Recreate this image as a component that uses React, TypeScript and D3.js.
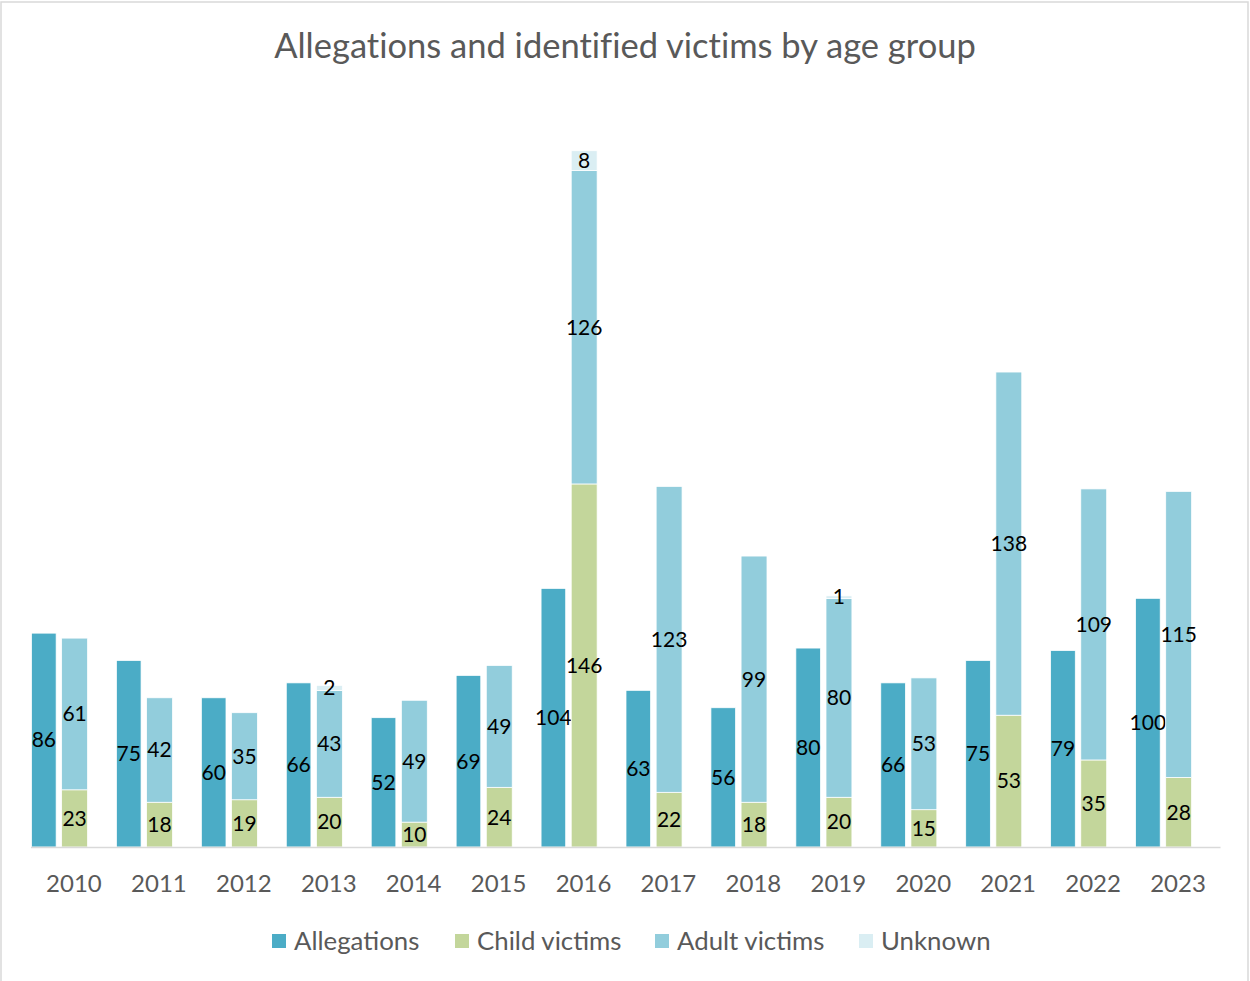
import React from "react";
import * as d3 from "d3";

const years = ["2010","2011","2012","2013","2014","2015","2016","2017","2018","2019","2020","2021","2022","2023"];
const allegations = [86,75,60,66,52,69,104,63,56,80,66,75,79,100];
const childVictims = [23,18,19,20,10,24,146,22,18,20,15,53,35,28];
const adultVictims = [61,42,35,43,49,49,126,123,99,80,53,138,109,115];
const unknownVictims = [0,0,0,2,0,0,8,0,0,1,0,0,0,0];
const seriesNames = ["Allegations","Child victims","Adult victims","Unknown"];
const colors = ["#4BACC6","#C3D69B","#92CDDC","#DAEEF3"];

const W = 1250, H = 981;
const FONT = "Lato, 'Open Sans', sans-serif";

export default function App() {
  const x = d3.scaleBand<string>().domain(years).range([31.5, 1220.5]).padding(0);
  const y = d3.scaleLinear().domain([0, 300]).range([847, 101]);
  const bw = x.bandwidth();
  const alW = bw * 0.29;
  const vicOff = bw * 0.355;
  const vicW = bw * 0.305;

  const stackData = years.map((yr, i) => ({ year: yr, child: childVictims[i], adult: adultVictims[i], unknown: unknownVictims[i] }));
  const stack = d3.stack<any>().keys(["child","adult","unknown"])(stackData);

  const legendX = [272, 455, 655, 859];

  return (
    <svg width={W} height={H} style={{ position: "absolute", left: 0, top: 0, background: "#fff" }} fontFamily={FONT}>
      <rect x={1} y={2} width={1247} height={990} fill="#fff" stroke="#d9d9d9" strokeWidth={1.5} />
      <text x={625} y={58} textAnchor="middle" fontSize={34.5} fill="#595959" style={{ fontVariantLigatures: "none" }}>Allegations and identified victims by age group</text>
      {years.map((yr, i) => {
        const x0 = x(yr)!;
        const y0 = y(allegations[i]);
        return (
          <g key={"a" + yr}>
            <rect x={x0} y={y0} width={alW} height={y(0) - y0} fill={colors[0]} stroke="#fff" strokeWidth={0.75} />
            <text x={x0 + alW / 2} y={(y0 + y(0)) / 2} dy="0.35em" textAnchor="middle" fontSize={21} fill="#000">{allegations[i]}</text>
          </g>
        );
      })}
      {stack.map((s, si) => (
        <g key={s.key}>
          {s.map((d, i) => {
            const v = d[1] - d[0];
            if (v <= 0) return null;
            const x0 = x(years[i])! + vicOff;
            return (
              <g key={i}>
                <rect x={x0} y={y(d[1])} width={vicW} height={y(d[0]) - y(d[1])} fill={colors[si + 1]} stroke="#fff" strokeWidth={0.75} />
                <text x={x0 + vicW / 2} y={(y(d[0]) + y(d[1])) / 2} dy="0.35em" textAnchor="middle" fontSize={21} fill="#000">{v}</text>
              </g>
            );
          })}
        </g>
      ))}
      <line x1={31} x2={1220.5} y1={847.5} y2={847.5} stroke="#d9d9d9" strokeWidth={1.5} />
      {years.map((yr) => (
        <text key={"t" + yr} x={x(yr)! + bw / 2} y={892} textAnchor="middle" fontSize={24} fill="#595959">{yr}</text>
      ))}
      {seriesNames.map((n, i) => (
        <g key={n}>
          <rect x={legendX[i]} y={934} width={14} height={14} fill={colors[i]} />
          <text x={legendX[i] + 22} y={950} fontSize={25.8} fill="#595959">{n}</text>
        </g>
      ))}
    </svg>
  );
}
